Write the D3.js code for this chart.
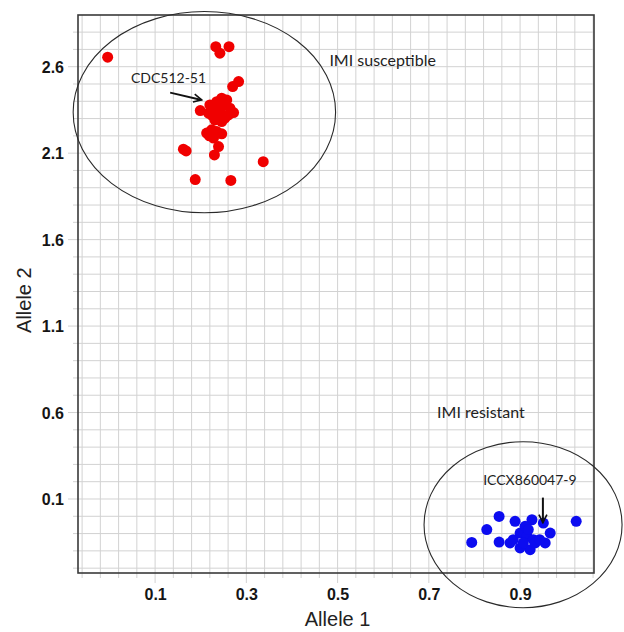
<!DOCTYPE html>
<html>
<head>
<meta charset="utf-8">
<script src="https://cdn.jsdelivr.net/npm/d3@7/dist/d3.min.js"></script>
<style>
  html, body { margin: 0; padding: 0; background: #fff; }
  svg { display: block; }
</style>
</head>
<body>
<svg id="chart" width="624" height="632"></svg>
<script>
// ---- data ----
const susceptibleX = [-0.004, 0.233, 0.262, 0.242, 0.283, 0.270,
  0.199, 0.220, 0.235, 0.246, 0.257, 0.228, 0.242, 0.264, 0.272, 0.239, 0.253, 0.231, 0.246, 0.217, 0.261,
  0.250, 0.236, 0.225,
  0.213, 0.224, 0.235, 0.246, 0.228, 0.219,
  0.239, 0.230, 0.162, 0.168, 0.337, 0.188, 0.266];
const susceptibleY = [2.655, 2.716, 2.716, 2.678, 2.514, 2.485,
  2.346, 2.379, 2.398, 2.418, 2.408, 2.350, 2.350, 2.360, 2.335, 2.312, 2.302, 2.292, 2.283, 2.331, 2.321,
  2.380, 2.365, 2.318,
  2.216, 2.235, 2.225, 2.212, 2.187, 2.200,
  2.138, 2.090, 2.123, 2.113, 2.051, 1.947, 1.942];

const resistantX = [0.794, 0.827, 0.854, 0.854, 1.023, 0.889, 0.926, 0.951, 0.966, 0.955, 0.885,
  0.900, 0.915, 0.929, 0.922, 0.900, 0.878, 0.911, 0.933, 0.918, 0.907, 0.943];
const resistantY = [-0.151, -0.077, -0.001, -0.149, -0.029, -0.029, -0.020, -0.039, -0.097, -0.154, -0.135,
  -0.097, -0.116, -0.135, -0.193, -0.183, -0.154, -0.058, -0.154, -0.077, -0.154, -0.135];

const xTickLabels = [0.1, 0.3, 0.5, 0.7, 0.9];
const yTickLabels = [0.1, 0.6, 1.1, 1.6, 2.1, 2.6];
const xGridStep = 0.04;
const yGridStep = 0.1;
const xTitle = "Allele 1";
const yTitle = "Allele 2";

// cluster ellipses: [cx, cy, rx, ry] in data units
const clusterSusceptible = [0.208, 2.337, 0.2876, 0.582];
const clusterResistant = [0.9065, -0.0486, 0.217, 0.48];

// annotations (data units)
const groupLabels = [
  { text: "IMI susceptible", x: 0.482, y: 2.604 },
  { text: "IMI resistant", x: 0.718, y: 0.57 }
];
const sampleLabels = [
  { text: "CDC512-51", x: 0.047, y: 2.508, ax1: 0.133, ay1: 2.450, ax2: 0.202, ay2: 2.408 },
  { text: "ICCX860047-9", x: 0.819, y: 0.183, ax1: 0.950, ay1: 0.108, ax2: 0.950, ay2: -0.037 }
];

// ---- drawing ----
const svg = d3.select("#chart");
const L = 78, R = 594, T = 15, B = 573;
const xDomain = [-0.069, 1.062], yDomain = [-0.328, 2.899];
const x = d3.scaleLinear().domain(xDomain).range([L, R]);
const y = d3.scaleLinear().domain(yDomain).range([B, T]);

const xGrid = d3.range(-100, 100).map(k => +(xTickLabels[0] + k * xGridStep).toFixed(4))
  .filter(v => v > xDomain[0] && v < xDomain[1]);
const yGrid = d3.range(-100, 100).map(k => +(yTickLabels[0] + k * yGridStep).toFixed(4))
  .filter(v => v > yDomain[0] && v < yDomain[1]);

const isMajor = (arr, v) => arr.some(t => Math.abs(t - v) < 1e-6);

// grid
const grid = svg.append("g");
grid.selectAll(".gx").data(xGrid).join("line")
  .attr("x1", d => x(d)).attr("x2", d => x(d))
  .attr("y1", T).attr("y2", d => B + (isMajor(xTickLabels, d) ? 10 : 5))
  .attr("stroke", "#d2d2d2").attr("stroke-width", 1);
grid.selectAll(".gy").data(yGrid).join("line")
  .attr("y1", d => y(d)).attr("y2", d => y(d))
  .attr("x1", d => L - (isMajor(yTickLabels, d) ? 10 : 5)).attr("x2", R)
  .attr("stroke", "#d2d2d2").attr("stroke-width", 1);

// frame
svg.append("rect").attr("x", L).attr("y", T).attr("width", R - L).attr("height", B - T)
  .attr("fill", "none").attr("stroke", "#3a3a3a").attr("stroke-width", 1.6);

// axes labels via d3 axis (ticks only as text)
const xAxis = d3.axisBottom(x).tickValues(xTickLabels).tickFormat(d3.format(".1f")).tickSize(0).tickPadding(0);
const gx = svg.append("g").attr("transform", `translate(0,${B})`).call(xAxis);
gx.select(".domain").remove();
gx.selectAll("text").attr("y", 27).attr("dy", 0)
  .attr("font-family", "'Liberation Sans', Arial, sans-serif").attr("font-size", 16)
  .attr("font-weight", "bold").attr("fill", "#151515");

const yAxis = d3.axisLeft(y).tickValues(yTickLabels).tickFormat(d3.format(".1f")).tickSize(0).tickPadding(0);
const gy = svg.append("g").attr("transform", `translate(${L},0)`).call(yAxis);
gy.select(".domain").remove();
gy.selectAll("text").attr("x", -14).attr("dy", "0.36em")
  .attr("font-family", "'Liberation Sans', Arial, sans-serif").attr("font-size", 16)
  .attr("font-weight", "bold").attr("fill", "#151515");

// titles
svg.append("text").attr("x", x(0.5)).attr("y", 626).attr("text-anchor", "middle")
  .attr("font-family", "'Liberation Sans', Arial, sans-serif").attr("font-size", 20)
  .attr("fill", "#222").text(xTitle);
svg.append("text").attr("transform", `translate(31,${y(1.25)}) rotate(-90)`).attr("text-anchor", "middle")
  .attr("font-family", "'Liberation Sans', Arial, sans-serif").attr("font-size", 20)
  .attr("fill", "#222").text(yTitle);

// points
const pts = svg.append("g");
pts.selectAll(".r").data(d3.zip(susceptibleX, susceptibleY)).join("circle")
  .attr("cx", d => x(d[0])).attr("cy", d => y(d[1])).attr("r", 5.5).attr("fill", "#f00000");
pts.selectAll(".b").data(d3.zip(resistantX, resistantY)).join("circle")
  .attr("cx", d => x(d[0])).attr("cy", d => y(d[1])).attr("r", 5.5).attr("fill", "#0c0cf0");

// ellipses
const pxPerX = x(1) - x(0), pxPerY = y(0) - y(1);
svg.selectAll(".ell").data([clusterSusceptible, clusterResistant]).join("ellipse")
  .attr("cx", d => x(d[0])).attr("cy", d => y(d[1]))
  .attr("rx", d => d[2] * pxPerX).attr("ry", d => d[3] * pxPerY)
  .attr("fill", "none").attr("stroke", "#2a2a2a").attr("stroke-width", 1.1);

// annotations
const annoFont = "Lato, 'Open Sans', sans-serif";
svg.selectAll(".gl").data(groupLabels).join("text")
  .attr("x", d => x(d.x)).attr("y", d => y(d.y))
  .attr("font-family", annoFont).attr("font-size", 16).attr("fill", "#222").text(d => d.text);

const defs = svg.append("defs");
defs.append("marker").attr("id", "ah").attr("viewBox", "0 0 10 10").attr("refX", 9).attr("refY", 5)
  .attr("markerWidth", 5).attr("markerHeight", 5).attr("orient", "auto-start-reverse")
  .append("path").attr("d", "M1,1 L9,5 L1,9").attr("fill", "none").attr("stroke", "#111").attr("stroke-width", 1.6);

svg.selectAll(".sl").data(sampleLabels).join("text")
  .attr("x", d => x(d.x)).attr("y", d => y(d.y))
  .attr("font-family", annoFont).attr("font-size", 14).attr("fill", "#222").text(d => d.text);
svg.selectAll(".sa").data(sampleLabels).join("line")
  .attr("x1", d => x(d.ax1)).attr("y1", d => y(d.ay1))
  .attr("x2", d => x(d.ax2)).attr("y2", d => y(d.ay2))
  .attr("stroke", "#111").attr("stroke-width", 2).attr("marker-end", "url(#ah)");
</script>
</body>
</html>
